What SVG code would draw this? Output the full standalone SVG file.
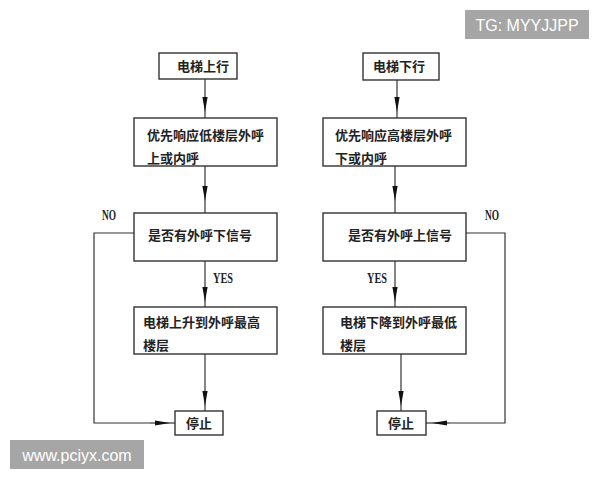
<svg xmlns="http://www.w3.org/2000/svg" width="600" height="480" viewBox="0 0 600 480">
<defs>
<style>
.box{fill:#fff;stroke:#333;stroke-width:1.4}
.t{font-family:"Noto Sans CJK SC","Noto Sans CJK JP",sans-serif;font-size:13px;font-weight:bold;fill:#222}
.lbl{font-family:"Liberation Serif",serif;font-size:14px;font-weight:bold;fill:#222}
.c{fill:none;stroke:#333;stroke-width:1.2;marker-mid:url(#ah)}
.p{fill:none;stroke:#333;stroke-width:1.2}
.wm{fill:#a6a6a6}
.wt{font-family:"Liberation Sans",Arial,sans-serif;font-size:16px;fill:#fff}
</style>
<marker id="ah" markerUnits="userSpaceOnUse" markerWidth="20" markerHeight="8" refX="15" refY="3" orient="auto" overflow="visible">
<path d="M0,0.4 L15,3 L0,5.6 Z" fill="#111"/>
</marker>
</defs>
<rect width="600" height="480" fill="#fff"/>
<g id="connectors">
<path class="c" d="M205,79 L205,112 L205,118"/>
<path class="c" d="M205,166 L205,201 L205,213"/>
<path class="c" d="M205,261 L205,302 L205,307"/>
<path class="c" d="M205,354 L205,406 L205,411"/>
<path class="p" d="M134,233 L94,233 L94,423 L150,423"/>
<path class="c" d="M150,423 L170,423 L175,423"/>
<path class="c" d="M397,80 L397,112 L397,118"/>
<path class="c" d="M395,166 L395,201 L395,213"/>
<path class="c" d="M395,261 L395,302 L395,307"/>
<path class="c" d="M401,354 L401,406 L401,411"/>
<path class="p" d="M466,233 L505,233 L505,423 L450,423"/>
<path class="c" d="M450,423 L432,423 L426,423"/>
<text class="lbl" x="102" y="220" textLength="14" lengthAdjust="spacingAndGlyphs">NO</text>
<text class="lbl" x="213" y="283" textLength="20" lengthAdjust="spacingAndGlyphs">YES</text>
<text class="lbl" x="485" y="220" textLength="14" lengthAdjust="spacingAndGlyphs">NO</text>
<text class="lbl" x="367" y="283" textLength="20" lengthAdjust="spacingAndGlyphs">YES</text>
</g>
<g id="up-start"><rect class="box" x="159" y="53" width="78" height="26"/><text class="t" x="177" y="71">电梯上行</text></g>
<g id="up-priority"><rect class="box" x="134" y="118" width="143" height="48"/><text class="t" x="147" y="140">优先响应低楼层外呼</text><text class="t" x="147" y="163">上或内呼</text></g>
<g id="up-check"><rect class="box" x="134" y="213" width="143" height="48"/><text class="t" x="148" y="240">是否有外呼下信号</text></g>
<g id="up-move"><rect class="box" x="134" y="307" width="143" height="47"/><text class="t" x="143" y="327">电梯上升到外呼最高</text><text class="t" x="143" y="350">楼层</text></g>
<g id="up-stop"><rect class="box" x="175" y="411" width="48" height="24"/><text class="t" x="199" y="428" text-anchor="middle">停止</text></g>
<g id="down-start"><rect class="box" x="363" y="53" width="76" height="27"/><text class="t" x="373" y="71">电梯下行</text></g>
<g id="down-priority"><rect class="box" x="323" y="118" width="143" height="48"/><text class="t" x="335" y="140">优先响应高楼层外呼</text><text class="t" x="335" y="163">下或内呼</text></g>
<g id="down-check"><rect class="box" x="323" y="213" width="143" height="48"/><text class="t" x="348" y="240">是否有外呼上信号</text></g>
<g id="down-move"><rect class="box" x="323" y="307" width="143" height="47"/><text class="t" x="340" y="327">电梯下降到外呼最低</text><text class="t" x="340" y="350">楼层</text></g>
<g id="down-stop"><rect class="box" x="377" y="411" width="49" height="24"/><text class="t" x="401" y="428" text-anchor="middle">停止</text></g>
<g id="watermarks">
<rect class="wm" x="465" y="10" width="124" height="29"/><text class="wt" x="527" y="30.5" text-anchor="middle">TG: MYYJJPP</text>
<rect class="wm" x="10" y="440" width="134" height="29"/><text class="wt" x="77" y="460.5" text-anchor="middle">www.pciyx.com</text>
</g>
</svg>
